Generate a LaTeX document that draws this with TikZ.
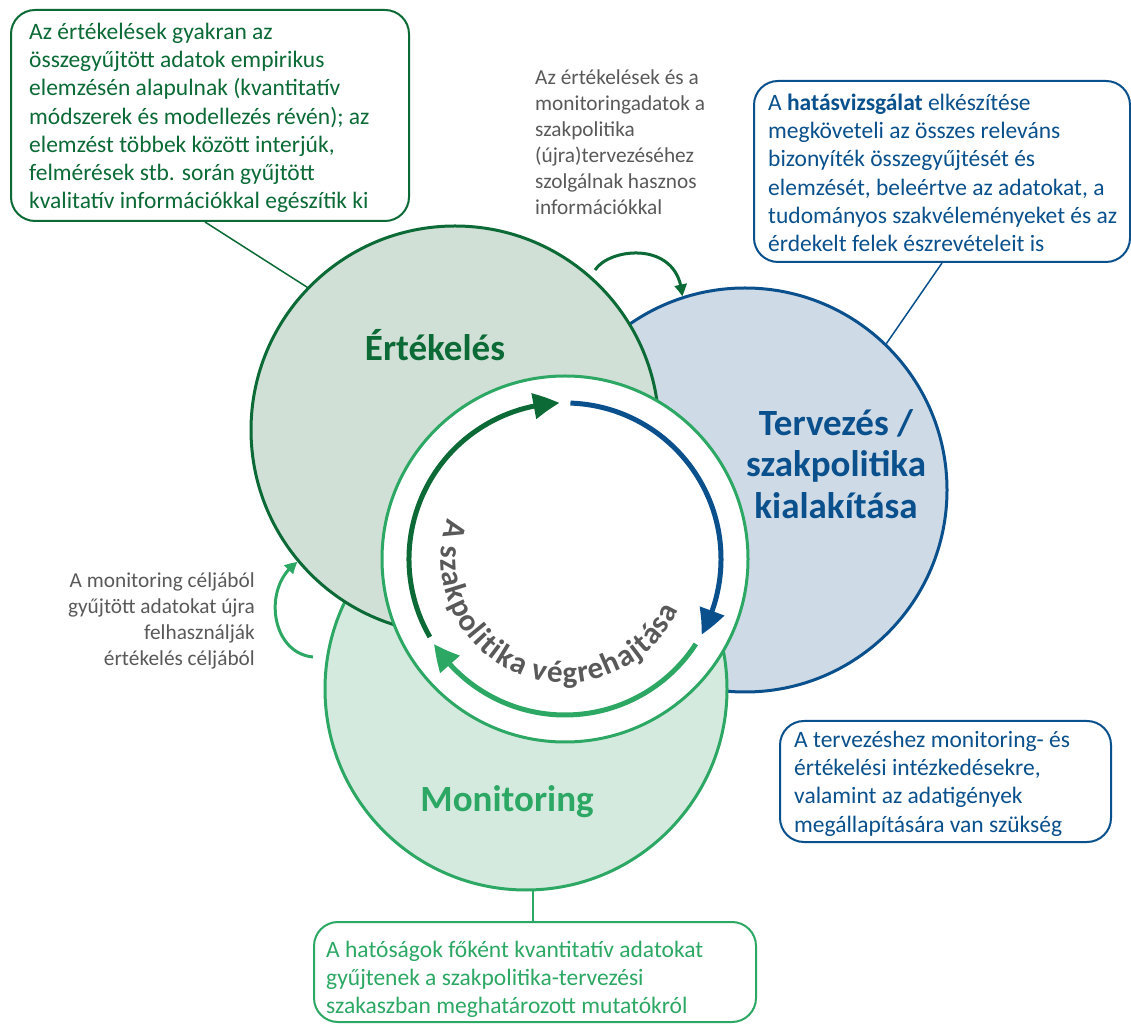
\documentclass[tikz,border=0pt]{standalone}
\usepackage{fontspec}
\setmainfont{Carlito}
\usetikzlibrary{arrows.meta,bending,decorations.text,calc}
\definecolor{dgreen}{RGB}{11,106,53}
\definecolor{lgreen}{RGB}{44,168,100}
\definecolor{dblue}{RGB}{10,80,140}
\definecolor{ertfill}{RGB}{208,224,214}
\definecolor{bluefill}{RGB}{206,218,230}
\definecolor{monfill}{RGB}{213,234,222}
\definecolor{txtgray}{RGB}{89,89,89}
\begin{document}
\begin{tikzpicture}[x=1pt,y=1pt,
  bigcirc/.style={circle, inner sep=0pt, line width=3pt},
  infobox/.style={draw, rounded corners=24pt, line width=2pt, fill=white, inner sep=0pt, anchor=south west},
  boxtext/.style={anchor=north west, inner sep=0pt, align=left, font=\fontsize{23.5}{28.3}\selectfont},
  graytext/.style={inner sep=0pt, text=txtgray, font=\fontsize{21.3}{26}\selectfont},
  titletext/.style={inner sep=0pt, font=\fontsize{37}{41.7}\selectfont\bfseries},
  ringarrow/.style={line width=5pt, -{Triangle[length=26pt,width=25pt,bend]}},
  thinlink/.style={line width=1.5pt},
  curvearrow/.style={line width=3pt, -{Triangle[length=12pt,width=12pt,bend]}}
]
\useasboundingbox (0,0) rectangle (1131,1025);

% big circles
\node[bigcirc, draw=dblue, fill=bluefill, minimum size=404pt] (blue) at (745,535) {};
\node[bigcirc, draw=lgreen, fill=monfill, minimum size=402pt] (mon) at (526,336) {};
\node[bigcirc, draw=dgreen, fill=ertfill, minimum size=408pt] (ert) at (455,595) {};
\node[bigcirc, draw=lgreen, fill=white, minimum size=366pt] (inner) at (565,466) {};

% ring arrows
\coordinate (c) at (565,466);
\draw[ringarrow, dgreen] ([shift={(210:156)}]c) arc[start angle=210, end angle=92, radius=156];
\draw[ringarrow, dblue] ([shift={(88:156)}]c) arc[start angle=88, end angle=-29, radius=156];
\draw[ringarrow, lgreen] ([shift={(-33:156)}]c) arc[start angle=-33, end angle=-147, radius=156];

% ring text
\path[decorate, decoration={text along path, text color=txtgray, text align=fit to path,
  text={|\fontsize{31}{31}\selectfont\bfseries|A szakpolitika végrehajtása}}]
  ([shift={(161:124)}]c) arc[start angle=161, end angle=336, radius=124];

% titles
\node[titletext, text=dgreen, anchor=base] (tert) at (435,664) {Értékelés};
\node[titletext, text=dblue, anchor=north, align=center] (tblue) at (836,627)
  {\rule{0pt}{1em}Tervezés /\\szakpolitika\\kialakítása};
\node[titletext, text=lgreen, anchor=base] (tmon) at (507,213) {Monitoring};

% boxes
\node[infobox, draw=dgreen, minimum width=398pt, minimum height=211pt] (tlbox) at (10,803) {};
\node[boxtext, text=dgreen] (tltext) at (29,1009.5) {\rule{0pt}{1em}Az értékelések gyakran az\\
összegyűjtött adatok empirikus\\
elemzésén alapulnak (kvantitatív\\
módszerek és modellezés révén); az\\
elemzést többek között interjúk,\\
felmérések stb. során gyűjtött\\
kvalitatív információkkal egészítik ki};

\node[infobox, draw=dblue, minimum width=376pt, minimum height=181pt] (trbox) at (753,762) {};
\node[boxtext, text=dblue] (trtext) at (768,938.5) {\rule{0pt}{1em}A \textbf{hatásvizsgálat} elkészítése\\
megköveteli az összes releváns\\
bizonyíték összegyűjtését és\\
elemzését, beleértve az adatokat, a\\
tudományos szakvéleményeket és az\\
érdekelt felek észrevételeit is};

\node[infobox, draw=dblue, minimum width=331pt, minimum height=121pt] (brbox) at (779,182) {};
\node[boxtext, text=dblue] (brtext) at (794,301.5) {\rule{0pt}{1em}A tervezéshez monitoring- és\\
értékelési intézkedésekre,\\
valamint az adatigények\\
megállapítására van szükség};

\node[infobox, draw=lgreen, minimum width=442pt, minimum height=100pt] (bbox) at (313,2) {};
\node[boxtext, text=lgreen] (btext) at (326,91.5) {\rule{0pt}{1em}A hatóságok főként kvantitatív adatokat\\
gyűjtenek a szakpolitika-tervezési\\
szakaszban meghatározott mutatókról};

% gray texts
\node[graytext, anchor=north west, align=left] (midtext) at (535,962.3) {\rule{0pt}{1em}Az értékelések és a\\
monitoringadatok a\\
szakpolitika\\
(újra)tervezéséhez\\
szolgálnak hasznos\\
információkkal};
\node[graytext, anchor=north east, align=right] (lefttext) at (255,459.3) {\rule{0pt}{1em}A monitoring céljából\\
gyűjtött adatokat újra\\
felhasználják\\
értékelés céljából};

% connectors
\coordinate (tla) at (205,803);
\draw[thinlink, dgreen] (tla) -- (ert.136);
\coordinate (tra) at (942,762);
\draw[thinlink, dblue] (tra) -- (blue.46);
\draw[thinlink, lgreen] (mon.-88) -- (mon.-88 |- bbox.north);

% curved arrows
\coordinate (ta) at (595,755);
\draw[curvearrow, dgreen] (ta) .. controls (610,778) and (680,785) .. (blue.108);
\coordinate (la) at (313,368);
\draw[curvearrow, lgreen] (la) .. controls (270,372) and (262,440) .. (ert.220);
\end{tikzpicture}
\end{document}
